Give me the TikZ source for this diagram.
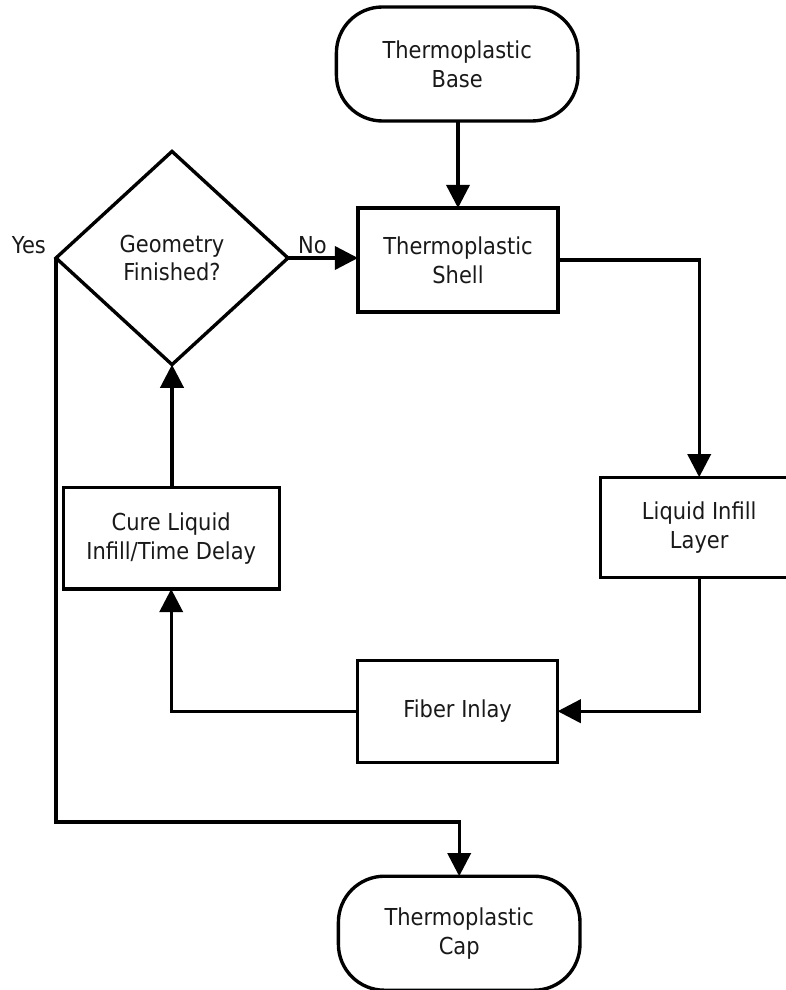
\documentclass[tikz,border=0pt]{standalone}
\usepackage{fontspec}
\setmainfont{DejaVu Sans}[FakeStretch=0.9]
\usetikzlibrary{arrows.meta, shapes.geometric}
\colorlet{ctext}{black!90}
\tikzset{
  every picture/.style={line width=2.4pt, font=\fontsize{16.6}{20.6}\selectfont},
  box/.style={draw, align=center, inner sep=0pt, outer sep=0pt, text=ctext, minimum width=#1, minimum height=2.55cm},
  box/.default=5cm,
  terminal/.style={box=6.04cm, minimum height=2.85cm, rounded corners=1.15cm},
  decision/.style={diamond, draw, align=center, inner sep=0pt, outer sep=0pt, text=ctext, minimum width=5.8cm, minimum height=5.33cm},
  arrow/.style={-{Triangle[length=0.58cm, width=0.58cm]}},
  lbl/.style={text=ctext, inner sep=2pt},
}
\begin{document}
\begin{tikzpicture}
  \useasboundingbox (0,0) rectangle (19.625,-24.75);
  \node[terminal] (base) at (11.43,-1.6) {Thermoplastic\\Base};
  \node[box, minimum height=2.6cm] (shell) at (11.45,-6.5) {Thermoplastic\\Shell};
  \node[decision] (geom) at (4.3,-6.45) {Geometry\\Finished?};
  \node[box=4.95cm, minimum height=2.5cm] (infill) at (17.48,-13.18) {Liquid Infill\\Layer};
  \node[box=5.4cm, minimum height=2.53cm] (cure) at (4.28,-13.46) {Cure Liquid\\Infill/Time Delay};
  \node[box] (fiber) at (11.44,-17.78) {Fiber Inlay};
  \node[terminal] (cap) at (11.48,-23.33) {Thermoplastic\\Cap};
  \coordinate (yesbend) at (geom.west |- 0,-20.55);

  \draw[arrow] (base.south -| shell.north) -- (shell.north);
  \draw[arrow] (geom.east) -- node[lbl, above, pos=0.35] {No} (geom.east -| shell.west);
  \draw[arrow] (shell.east) -| (infill.north);
  \draw[arrow] (infill.south) |- (fiber.east);
  \draw[arrow] (fiber.west) -| (cure.south);
  \draw[arrow] (cure.north -| geom.south) -- (geom.south);
  \draw[arrow] (geom.west) -- (yesbend) -| (cap.north);
  \node[lbl, above left, xshift=-4pt] (yes) at (geom.west) {Yes};
\end{tikzpicture}
\end{document}
